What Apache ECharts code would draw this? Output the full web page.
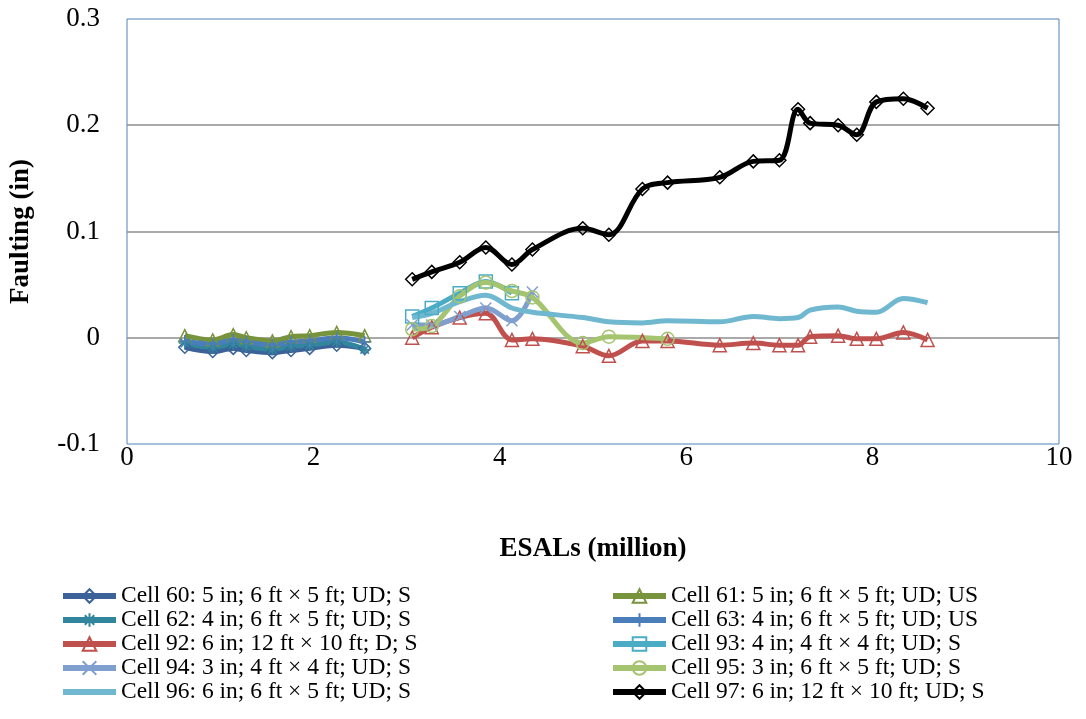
<!DOCTYPE html>
<html>
<head>
<meta charset="utf-8">
<script src="https://cdn.jsdelivr.net/npm/echarts@6/dist/echarts.min.js"></script>
<style>
  html, body { margin: 0; padding: 0; background: #fff; }
  #chart { width: 1086px; height: 719px; }
</style>
</head>
<body>
<div id="chart"></div>
<script>
// ESAL positions (million) of the survey dates
const xEarly = [0.62, 0.92, 1.14, 1.28, 1.56, 1.76, 1.96, 2.25, 2.55];
const xLate = [3.06, 3.27, 3.57, 3.85, 4.13, 4.35, 4.89, 5.17, 5.53, 5.80,
               6.36, 6.72, 7.00, 7.20, 7.33, 7.63, 7.83, 8.04, 8.33, 8.59];

// faulting values (in)
const cell60 = [-0.009, -0.013, -0.010, -0.012, -0.014, -0.012, -0.010, -0.007, -0.010];
const cell61 = [0.002, -0.002, 0.003, 0.000, -0.003, 0.001, 0.002, 0.005, 0.002];
const cell62 = [-0.005, -0.009, -0.006, -0.008, -0.011, -0.008, -0.007, -0.004, -0.011];
const cell63 = [-0.003, -0.006, -0.002, -0.004, -0.007, -0.004, -0.003, 0.000, -0.004];
const cell92 = [0.000, 0.010, 0.019, 0.023, -0.002, -0.001, -0.008, -0.017, -0.003, -0.003,
                -0.007, -0.005, -0.007, -0.007, 0.001, 0.002, -0.001, -0.001, 0.005, -0.002];
const cell93 = [0.020, 0.028, 0.042, 0.053, 0.042];
const cell94 = [0.012, 0.012, 0.020, 0.028, 0.016, 0.043];
const cell95 = [0.008, 0.011, 0.039, 0.052, 0.044, 0.038, -0.005, 0.001, null, -0.001];
const cell96 = [0.019, 0.023, 0.034, 0.040, 0.028, 0.024, 0.019, 0.015, 0.014, 0.016,
                0.015, 0.020, 0.018, 0.019, 0.026, 0.029, 0.025, 0.024, 0.037, 0.033];
const cell97 = [0.055, 0.062, 0.071, 0.085, 0.069, 0.083, 0.103, 0.097, 0.140, 0.146,
                0.151, 0.166, 0.167, 0.215, 0.202, 0.200, 0.191, 0.222, 0.225, 0.216];

const FONT = '"Liberation Serif", "Times New Roman", serif';
const STAR = 'path://M5,0L5,10M0,5L10,5M1.5,1.5L8.5,8.5M8.5,1.5L1.5,8.5';
const CROSS = 'path://M0,0L10,10M10,0L0,10';
const PLUS = 'path://M5,0L5,10M0,5L10,5';

function pairs(xs, ys) {
  const out = [];
  ys.forEach((y, i) => { if (y !== null) out.push([xs[i], y]); });
  return out;
}

function makeSeries(name, xs, ys, color, symbol, size) {
  const noMarker = symbol === 'none';
  return {
    name: name,
    type: 'line',
    smooth: 0.35,
    data: pairs(xs, ys),
    symbol: noMarker ? 'circle' : symbol,
    symbolSize: size,
    showSymbol: !noMarker,
    lineStyle: { color: color, width: 5 },
    itemStyle: {
      color: 'rgba(255,255,255,0)',
      borderColor: noMarker ? 'rgba(255,255,255,0)' : color,
      borderWidth: 1.5
    },
    emphasis: { disabled: true },
    z: 2
  };
}

const series = [
  makeSeries('Cell 60: 5 in; 6 ft × 5 ft; UD; S', xEarly, cell60, '#3B6399', 'diamond', 12),
  makeSeries('Cell 61: 5 in; 6 ft × 5 ft; UD; US', xEarly, cell61, '#77933C', 'triangle', 12),
  makeSeries('Cell 62: 4 in; 6 ft × 5 ft; UD; S', xEarly, cell62, '#31859C', STAR, 12),
  makeSeries('Cell 63: 4 in; 6 ft × 5 ft; UD; US', xEarly, cell63, '#4A7EBB', PLUS, 12),
  makeSeries('Cell 92: 6 in; 12 ft × 10 ft; D; S', xLate, cell92, '#C0504D', 'triangle', 13),
  makeSeries('Cell 93: 4 in; 4 ft × 4 ft; UD; S', xLate, cell93, '#4BACC6', 'rect', 13),
  makeSeries('Cell 94: 3 in; 4 ft × 4 ft; UD; S', xLate, cell94, '#7F9FCF', CROSS, 11),
  makeSeries('Cell 95: 3 in; 6 ft × 5 ft; UD; S', xLate, cell95, '#A5C46F', 'circle', 13),
  makeSeries('Cell 96: 6 in; 6 ft × 5 ft; UD; S', xLate, cell96, '#70B8D0', 'none', 0),
  makeSeries('Cell 97: 6 in; 12 ft × 10 ft; UD; S', xLate, cell97, '#000000', 'diamond', 13)
];

const legendLeft = [0, 2, 4, 6, 8].map(i => series[i].name);
const legendRight = [1, 3, 5, 7, 9].map(i => series[i].name);

function legendAt(left, names) {
  return {
    data: names,
    orient: 'vertical',
    left: left,
    top: 584,
    padding: 0,
    itemWidth: 53,
    itemHeight: 17,
    itemGap: 0,
    selectedMode: false,
    lineStyle: { width: 6 },
    textStyle: { fontFamily: FONT, fontSize: 23.5, color: '#000', lineHeight: 22.5 }
  };
}

const chart = echarts.init(document.getElementById('chart'), null, { renderer: 'canvas' });
chart.setOption({
  animation: false,
  backgroundColor: '#fff',
  grid: {
    left: 127, right: 27, top: 19, bottom: 275,
    show: true, borderColor: '#4F81BD', borderWidth: 1
  },
  legend: [legendAt(60, legendLeft), legendAt(610, legendRight)],
  xAxis: {
    type: 'value',
    min: 0, max: 10, interval: 2,
    name: 'ESALs (million)',
    nameLocation: 'middle',
    nameGap: 92,
    nameTextStyle: { fontFamily: FONT, fontSize: 27, fontWeight: 'bold', color: '#000' },
    axisLine: { show: false },
    axisTick: { show: false },
    splitLine: { show: false },
    axisLabel: { fontFamily: FONT, fontSize: 27, color: '#000', margin: 0 }
  },
  yAxis: {
    type: 'value',
    min: -0.1, max: 0.3, interval: 0.1,
    name: 'Faulting (in)',
    nameLocation: 'middle',
    nameGap: 92,
    nameTextStyle: { fontFamily: FONT, fontSize: 27, fontWeight: 'bold', color: '#000' },
    axisLine: { show: false },
    axisTick: { show: false },
    splitLine: { show: true, showMinLine: false, showMaxLine: false, lineStyle: { color: '#8C8C8C', width: 1.5 } },
    axisLabel: {
      fontFamily: FONT, fontSize: 27, color: '#000', margin: 27,
      formatter: v => String(Math.round(v * 10) / 10)
    }
  },
  series: series
});
</script>
</body>
</html>
